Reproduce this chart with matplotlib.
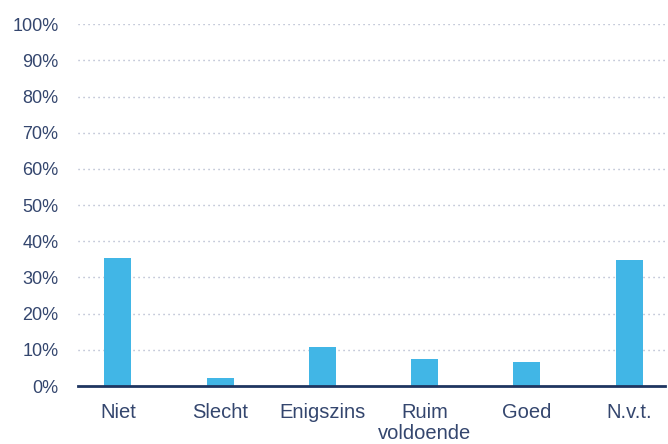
import matplotlib.pyplot as plt
import numpy as np

# データ
categories = ['Niet', 'Slecht', 'Enigszins', 'Ruim\nvoldoende', 'Goed', 'N.v.t.']
values = [35.3, 2.3, 10.9, 7.5, 6.7, 34.7]
yticks = list(range(0, 101, 10))
ytick_labels = [f'{t}%' for t in yticks]

bar_color = '#41b6e6'
text_color = '#34466e'
axis_color = '#1f3560'
grid_color = '#a3abc3'

plt.rcParams['font.family'] = ['Liberation Sans', 'DejaVu Sans']

fig = plt.figure(figsize=(6.68, 4.44), dpi=100)
ax = fig.add_axes([0.1168, 0.1306, 0.8787, 0.8147])

x = np.arange(len(categories))
ax.bar(x, values, width=0.265, color=bar_color, zorder=3)

ax.set_xlim(-0.39, 5.35)
ax.set_ylim(0, 100)
ax.set_yticks(yticks)
ax.set_yticklabels(ytick_labels)
ax.set_xticks(x)
ax.set_xticklabels(categories, linespacing=1.15)

# 点線のグリッド（0% は軸線）
for t in yticks[1:]:
    ax.axhline(t, color=grid_color, lw=1.0, linestyle=(0, (0.8, 2.8)), zorder=1)

for side in ['top', 'right', 'left']:
    ax.spines[side].set_visible(False)
ax.spines['bottom'].set_color(axis_color)
ax.spines['bottom'].set_linewidth(2.0)
ax.spines['bottom'].set_zorder(4)

ax.tick_params(axis='y', length=0, pad=14, labelsize=13, labelcolor=text_color)
ax.tick_params(axis='x', length=0, pad=12, labelsize=14.5, labelcolor=text_color)

fig.savefig('out.png', dpi=100)
